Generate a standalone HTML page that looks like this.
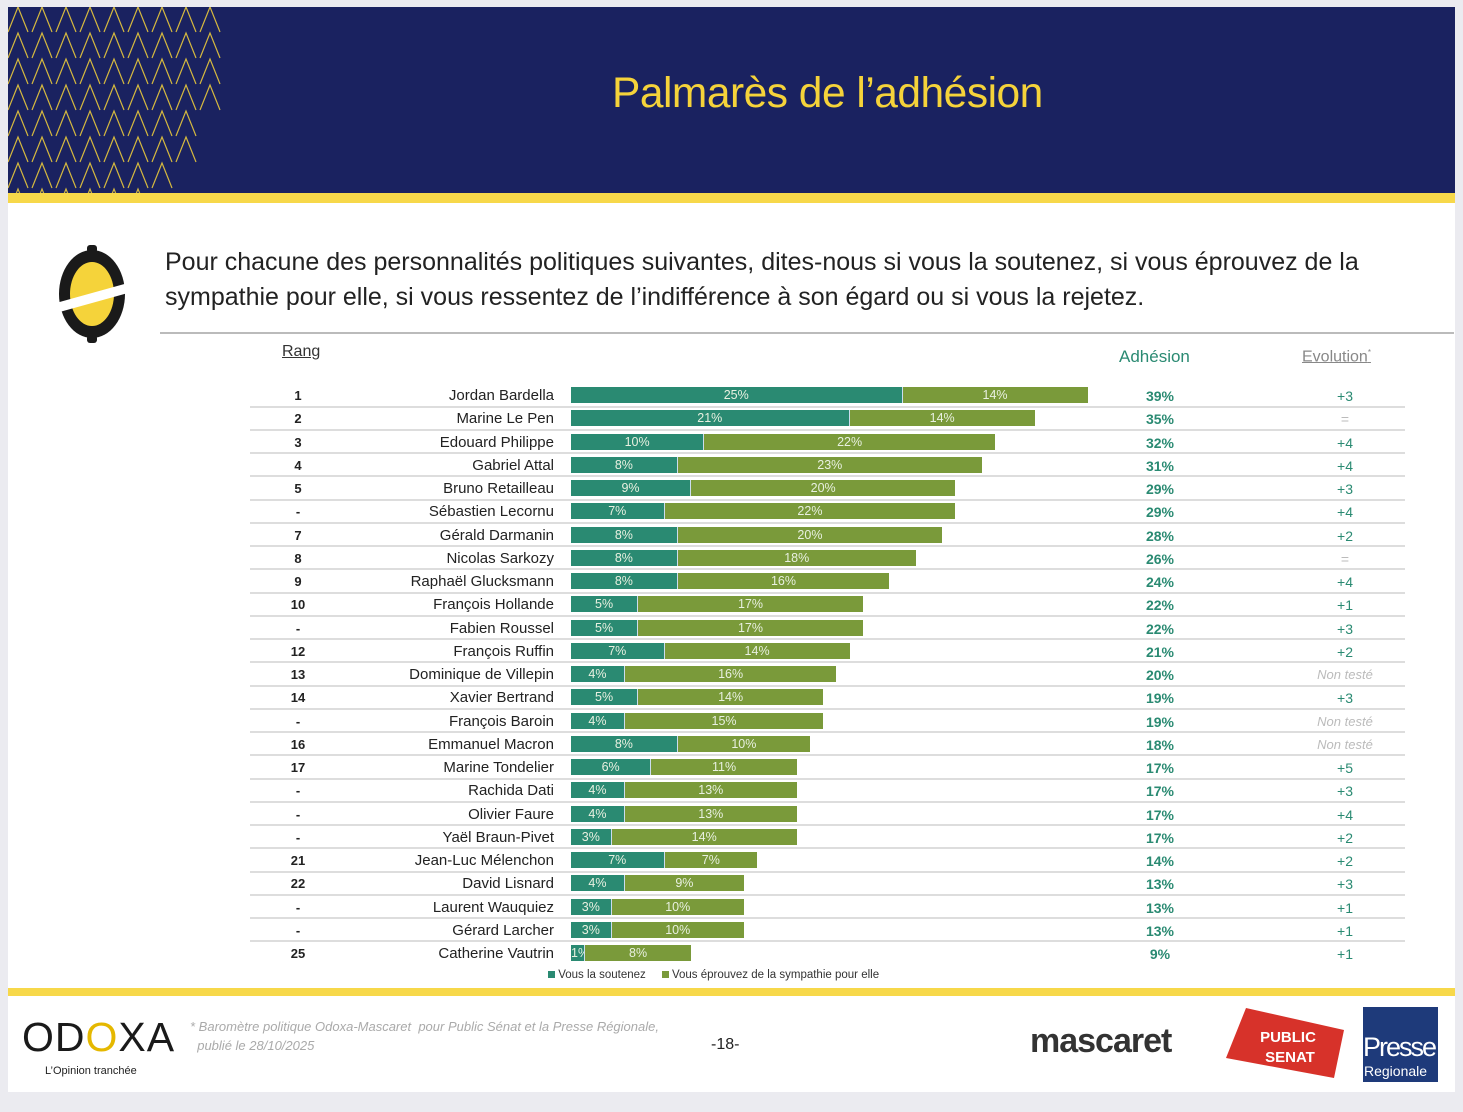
<!DOCTYPE html>
<html><head><meta charset="utf-8"><style>
body{margin:0;width:1463px;height:1112px;background:#ebebf0;font-family:"Liberation Sans",sans-serif;position:relative;overflow:hidden}
.slide{position:absolute;left:8px;top:7px;width:1447px;height:1085px;background:#fff}
.hdr{position:absolute;left:8px;top:7px;width:1447px;height:186px;background:#1a2260;overflow:hidden}
.ystripe{position:absolute;left:8px;top:193px;width:1447px;height:10px;background:#f7d84a}
.title{position:absolute;left:612px;top:70px;font-size:42.5px;color:#f5d33a;letter-spacing:-0.5px}
.q{position:absolute;left:165px;top:245px;font-size:25px;line-height:35px;color:#222}
.qline{position:absolute;left:160px;top:332px;width:1294px;height:2px;background:#bbb}
.t{position:absolute;font-size:14px;white-space:nowrap}
.sep{position:absolute;left:250px;width:1155px;height:2px;background:#ddd}
.bar{position:absolute;height:16px;color:#e8f0e0;font-size:12.5px;text-align:center;line-height:17px;overflow:hidden}
.fy{position:absolute;left:8px;top:988px;width:1447px;height:8px;background:#f7d84a}
</style></head><body>
<div class="slide"></div>
<div class="hdr"><svg width="230" height="186" style="position:absolute;left:0;top:0">
<g stroke="#f5d33a" stroke-width="1.2" fill="none" opacity="0.85" id="pat"></g></svg></div>
<div class="ystripe"></div>
<div class="title">Palmarès de l’adhésion</div>
<svg style="position:absolute;left:56px;top:245px" width="72" height="98"><ellipse cx="36" cy="49" rx="33" ry="44" fill="#1a1a1a"/><ellipse cx="36" cy="49" rx="22" ry="32" fill="#f5d33a"/><rect x="31" y="0" width="10" height="8" rx="3" fill="#1a1a1a"/><rect x="31" y="90" width="10" height="8" rx="3" fill="#1a1a1a"/><polygon points="0,58 72,38 72,48 0,68" fill="#fff"/></svg>
<div class="q">Pour chacune des personnalités politiques suivantes, dites-nous si vous la soutenez, si vous éprouvez de la<br>sympathie pour elle, si vous ressentez de l’indifférence à son égard ou si vous la rejetez.</div>
<div class="qline"></div>
<div class="t" style="left:282px;top:343px;font-size:16px;text-decoration:underline;color:#333">Rang</div>
<div class="t" style="left:1119px;top:347px;font-size:17px;color:#2a8a72">Adhésion</div>
<div class="t" style="left:1302px;top:348px;font-size:16px;color:#888;text-decoration:underline">Evolution<sup style="font-size:8px">*</sup></div>
<div id="rows"></div>
<div class="t" style="left:548px;top:969px;font-size:11.5px;color:#333"><span style="display:inline-block;width:7px;height:7px;background:#2a8a72"></span> Vous la soutenez &nbsp;&nbsp;&nbsp;&nbsp;<span style="display:inline-block;width:7px;height:7px;background:#7a9a3a"></span> Vous éprouvez de la sympathie pour elle</div>
<div class="fy"></div>
<div class="t" style="left:22px;top:1014px;font-size:41px;color:#1a1a1a;letter-spacing:1px">OD<span style="color:#e5b800">O</span>XA</div>
<div class="t" style="left:45px;top:1065px;font-size:11px;color:#222">L’Opinion tranchée</div>
<div class="t" style="left:190px;top:1017px;font-size:13px;line-height:19px;color:#aaa;font-style:italic">* Baromètre politique Odoxa-Mascaret &nbsp;pour Public Sénat et la Presse Régionale,<br>&nbsp;&nbsp;publié le 28/10/2025</div>
<div class="t" style="left:711px;top:1036px;font-size:16px;color:#222">-18-</div>
<div class="t" style="left:1030px;top:1022px;font-size:34px;font-weight:bold;color:#333;letter-spacing:-1px">mascaret</div>
<svg style="position:absolute;left:1226px;top:1008px" width="118" height="72"><polygon points="20,0 118,22 108,70 0,50" fill="#d7322a"/><text x="62" y="34" fill="#fff" font-size="15" font-weight="bold" text-anchor="middle" font-family="Liberation Sans">PUBLIC</text><text x="64" y="54" fill="#fff" font-size="15" font-weight="bold" text-anchor="middle" font-family="Liberation Sans">SENAT</text></svg>
<div style="position:absolute;left:1363px;top:1007px;width:75px;height:75px;background:#1e3a7a"></div>
<div class="t" style="left:1363px;top:1032px;font-size:27px;color:#fff;letter-spacing:-2px">Presse</div>
<div class="t" style="left:1364px;top:1063px;font-size:14px;color:#fff;background:#1e3a7a">Regionale</div>
<script>
var p=document.getElementById('pat'),s='';
for(var c=0;c<9;c++)for(var r=0;r<8;r++){var x=10+c*24,y=r*26;if(x+y*0.6>260)continue;s+='<path d="M'+(x-10)+' '+(y+25)+' L'+x+' '+y+' L'+(x+10)+' '+(y+25)+'"/>';}
p.innerHTML=s;
var d=[["1","Jordan Bardella",25,14,39,"+3"],["2","Marine Le Pen",21,14,35,"="],["3","Edouard Philippe",10,22,32,"+4"],["4","Gabriel Attal",8,23,31,"+4"],["5","Bruno Retailleau",9,20,29,"+3"],["-","Sébastien Lecornu",7,22,29,"+4"],["7","Gérald Darmanin",8,20,28,"+2"],["8","Nicolas Sarkozy",8,18,26,"="],["9","Raphaël Glucksmann",8,16,24,"+4"],["10","François Hollande",5,17,22,"+1"],["-","Fabien Roussel",5,17,22,"+3"],["12","François Ruffin",7,14,21,"+2"],["13","Dominique de Villepin",4,16,20,"Non testé"],["14","Xavier Bertrand",5,14,19,"+3"],["-","François Baroin",4,15,19,"Non testé"],["16","Emmanuel Macron",8,10,18,"Non testé"],["17","Marine Tondelier",6,11,17,"+5"],["-","Rachida Dati",4,13,17,"+3"],["-","Olivier Faure",4,13,17,"+4"],["-","Yaël Braun-Pivet",3,14,17,"+2"],["21","Jean-Luc Mélenchon",7,7,14,"+2"],["22","David Lisnard",4,9,13,"+3"],["-","Laurent Wauquiez",3,10,13,"+1"],["-","Gérard Larcher",3,10,13,"+1"],["25","Catherine Vautrin",1,8,9,"+1"]];
var h='',k=13.22;
d.forEach(function(e,i){var y=395+i*23.25;
h+='<div class="t" style="left:290px;top:'+(y-7)+'px;width:16px;text-align:center;font-size:13px;font-weight:bold;color:#222">'+e[0]+'</div>';
h+='<div class="t" style="right:'+(1463-554)+'px;top:'+(y-8)+'px;font-size:15px;color:#222">'+e[1]+'</div>';
var w1=e[2]*k,w2=e[3]*k;
h+='<div class="bar" style="left:571px;top:'+(y-8)+'px;width:'+w1+'px;background:#2a8a72">'+e[2]+'%</div>';
h+='<div class="bar" style="left:'+(571+w1)+'px;top:'+(y-8)+'px;width:'+w2+'px;background:#7a9a3a;border-left:1px solid #cde">'+e[3]+'%</div>';
h+='<div class="t" style="left:1130px;top:'+(y-7)+'px;width:60px;text-align:center;font-size:14px;font-weight:bold;color:#2a8a72">'+e[4]+'%</div>';
var nt=e[5]=="Non testé",eq=e[5]=="=";
h+='<div class="t" style="left:1295px;top:'+(y-7)+'px;width:100px;text-align:center;font-size:'+(nt?13:14)+'px;color:'+(nt||eq?'#bbb':'#2a8a72')+';'+(nt?'font-style:italic':'')+'">'+e[5]+'</div>';
if(i<24)h+='<div class="sep" style="top:'+(y+10.5)+'px"></div>';});
document.getElementById('rows').innerHTML=h;
</script>
</body></html>
